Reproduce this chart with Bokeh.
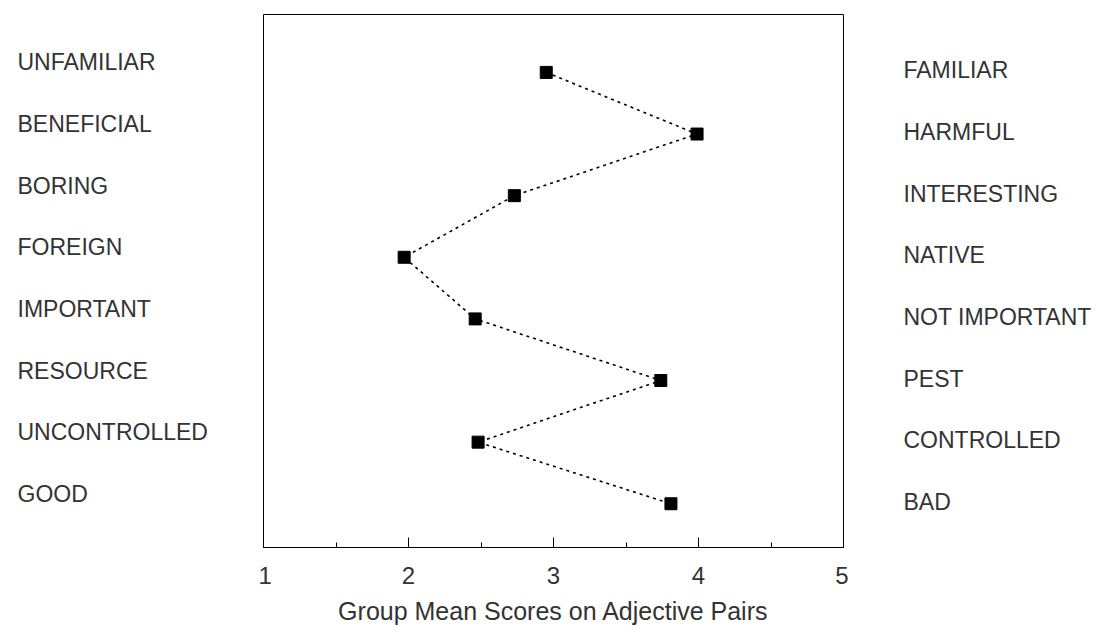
from bokeh.plotting import figure
from bokeh.layouts import row
from bokeh.models import Range1d, FixedTicker, ColumnDataSource
from bokeh.core.properties import value
from bokeh.embed import file_html
from bokeh.resources import INLINE

# ---- data ----
left_words = ["UNFAMILIAR", "BENEFICIAL", "BORING", "FOREIGN",
              "IMPORTANT", "RESOURCE", "UNCONTROLLED", "GOOD"]
right_words = ["FAMILIAR", "HARMFUL", "INTERESTING", "NATIVE",
               "NOT IMPORTANT", "PEST", "CONTROLLED", "BAD"]
mean_scores = [2.95, 3.99, 2.73, 1.97, 2.46, 3.74, 2.48, 3.81]
x_ticks = [1, 2, 3, 4, 5]
x_minor_ticks = [1.5, 2.5, 3.5, 4.5]
rows = list(range(len(left_words)))
side_x = [0] * len(rows)

FONT = "Liberation Sans"
TXT = "#333333"
H = 630
TOP = 14
BOTTOM = 83

src = ColumnDataSource(dict(row=rows, score=mean_scores, sx=side_x,
                            left=left_words, right=right_words))
y_rng = Range1d(7.71, -0.94)


def side_fig(width):
    f = figure(width=width, height=H, x_range=Range1d(0, 1), y_range=y_rng,
               output_backend="svg", toolbar_location=None,
               x_axis_location=None, y_axis_location=None,
               min_border_left=0, min_border_right=0,
               min_border_top=TOP, min_border_bottom=BOTTOM)
    f.grid.visible = False
    f.outline_line_color = None
    f.background_fill_color = "white"
    f.border_fill_color = "white"
    return f


# left adjective column
pl = side_fig(258)
pl.text(x="sx", y="row", text="left", source=src, x_offset=17, y_offset=-10,
        text_font=value(FONT), text_font_size="23px", text_color=TXT,
        text_align="left", text_baseline="middle")

# main plot
p = figure(width=590, height=H, x_range=Range1d(1, 5), y_range=y_rng,
           output_backend="svg", toolbar_location=None,
           y_axis_location=None,
           min_border_left=5, min_border_right=5,
           min_border_top=TOP, min_border_bottom=BOTTOM)
p.grid.visible = False
p.outline_line_color = "black"
p.outline_line_width = 1
p.background_fill_color = "white"
p.border_fill_color = "white"

ax = p.xaxis[0]
ax.ticker = FixedTicker(ticks=x_ticks, minor_ticks=x_minor_ticks)
ax.major_tick_in = 10
ax.major_tick_out = 0
ax.minor_tick_in = 5
ax.minor_tick_out = 0
ax.axis_line_color = "black"
ax.major_tick_line_color = "black"
ax.minor_tick_line_color = "black"
ax.major_label_text_font = FONT
ax.major_label_text_font_size = "24px"
ax.major_label_text_color = TXT
ax.major_label_standoff = 19
ax.axis_label = "Group Mean Scores on Adjective Pairs"
ax.axis_label_text_font = FONT
ax.axis_label_text_font_size = "25px"
ax.axis_label_text_font_style = "normal"
ax.axis_label_text_color = TXT
ax.axis_label_standoff = 10

p.line(x="score", y="row", source=src, line_color="black",
       line_width=1.6, line_dash="3 4")
p.scatter(x="score", y="row", source=src, marker="square", size=12,
          fill_color="black", line_color="black")

# right adjective column
pr = side_fig(262)
pr.text(x="sx", y="row", text="right", source=src, x_offset=55, y_offset=-2,
        text_font=value(FONT), text_font_size="23px", text_color=TXT,
        text_align="left", text_baseline="middle")

layout = row(pl, p, pr)
open("out.html", "w").write(file_html(layout, INLINE))
